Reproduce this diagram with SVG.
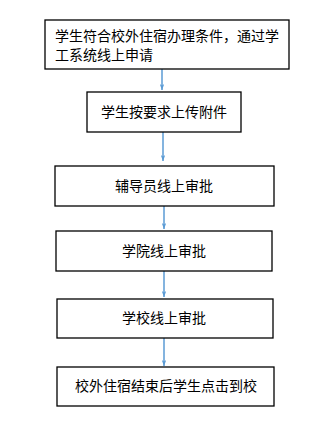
<svg xmlns="http://www.w3.org/2000/svg" width="332" height="434" viewBox="0 0 332 434">
<style>
.box{fill:#fff;stroke:#000;stroke-width:1.3}
.t{font-family:"Noto Sans CJK SC","Liberation Sans",sans-serif;font-size:14px;fill:#000}
.c{text-anchor:middle}
.ln{stroke:#5B9BD5;stroke-width:1.5;fill:none}
</style>
<defs>
<marker id="ah" viewBox="0 0 8 6" refX="8" refY="3" markerWidth="4" markerHeight="3" orient="auto" markerUnits="strokeWidth">
<path d="M0,0 L8,3 L0,6 L2,3 Z" fill="#5B9BD5"/>
</marker>
</defs>
<rect width="332" height="434" fill="#fff"/>
<g id="connectors">
<line class="ln" x1="162" y1="69" x2="162" y2="90" marker-end="url(#ah)"/>
<line class="ln" x1="163" y1="132" x2="163" y2="161" marker-end="url(#ah)"/>
<line class="ln" x1="164" y1="206" x2="164" y2="229" marker-end="url(#ah)"/>
<line class="ln" x1="164" y1="271" x2="164" y2="297" marker-end="url(#ah)"/>
<line class="ln" x1="164" y1="338" x2="164" y2="366" marker-end="url(#ah)"/>
</g>
<g id="n1">
<rect class="box" x="45" y="20" width="244" height="49"/>
<text class="t" x="55" y="41">学生符合校外住宿办理条件，通过学</text>
<text class="t" x="55" y="60">工系统线上申请</text>
</g>
<g id="n2">
<rect class="box" x="87" y="92" width="154" height="40"/>
<text class="t c" x="164" y="117">学生按要求上传附件</text>
</g>
<g id="n3">
<rect class="box" x="55" y="166" width="219" height="40"/>
<text class="t c" x="164" y="191">辅导员线上审批</text>
</g>
<g id="n4">
<rect class="box" x="56" y="231" width="216" height="40"/>
<text class="t c" x="164" y="256">学院线上审批</text>
</g>
<g id="n5">
<rect class="box" x="57" y="299" width="216" height="39"/>
<text class="t c" x="164" y="323">学校线上审批</text>
</g>
<g id="n6">
<rect class="box" x="57" y="367" width="217" height="39"/>
<text class="t c" x="166" y="391">校外住宿结束后学生点击到校</text>
</g>
</svg>
